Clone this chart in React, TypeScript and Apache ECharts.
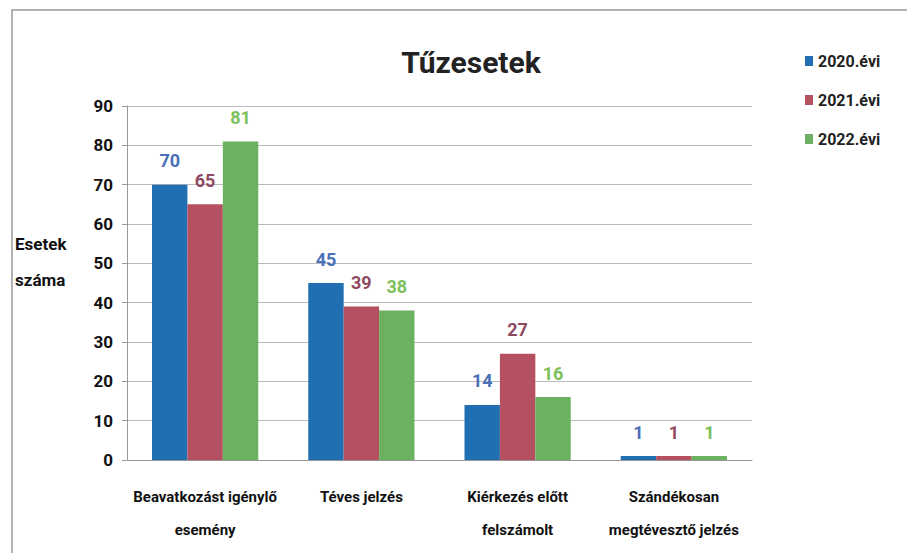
import React, { useEffect, useRef } from "react";
import * as echarts from "echarts";

const categories = [
  "Beavatkozást igénylő\nesemény",
  "Téves jelzés",
  "Kiérkezés előtt\nfelszámolt",
  "Szándékosan\nmegtévesztő jelzés",
];
const seriesNames = ["2020.évi", "2021.évi", "2022.évi"];
const values2020 = [70, 45, 14, 1];
const values2021 = [65, 39, 27, 1];
const values2022 = [81, 38, 16, 1];
const barColors = ["#1f6fb2", "#b4505f", "#6cb061"];
const labelColors = ["#4a70b8", "#8f4a62", "#7cc05a"];

const FONT = "Roboto, 'Liberation Sans', sans-serif";

export default function App() {
  const ref = useRef<HTMLDivElement>(null);
  useEffect(() => {
    if (!ref.current) return;
    const chart = echarts.init(ref.current, undefined, { renderer: "svg" });
    const all = [values2020, values2021, values2022];
    chart.setOption({
      animation: false,
      backgroundColor: "#ffffff",
      textStyle: { fontFamily: FONT },
      title: {
        text: "Tűzesetek",
        left: 466,
        top: 42,
        textAlign: "center",
        textStyle: { fontFamily: FONT, fontSize: 30, fontWeight: "bold", color: "#222" },
      },
      legend: {
        orient: "vertical",
        left: 800,
        top: 48,
        itemGap: 23,
        itemWidth: 8,
        itemHeight: 10,
        icon: "rect",
        textStyle: { fontFamily: FONT, fontSize: 16, fontWeight: "bold", color: "#222" },
        data: seriesNames,
      },
      grid: { left: 127, right: 155, top: 106, bottom: 93 },
      xAxis: {
        type: "category",
        data: categories,
        axisTick: { show: false },
        axisLine: { lineStyle: { color: "#999", width: 1 } },
        axisLabel: {
          interval: 0,
          margin: 20,
          fontFamily: FONT,
          fontSize: 15,
          fontWeight: "bold",
          color: "#111",
          lineHeight: 33,
        },
      },
      yAxis: {
        type: "value",
        min: 0,
        max: 90,
        interval: 10,
        axisLine: { show: true, lineStyle: { color: "#999" } },
        axisTick: { show: true, length: 5, lineStyle: { color: "#999" } },
        splitLine: { lineStyle: { color: "#bbb" } },
        axisLabel: {
          margin: 14,
          fontFamily: FONT,
          fontSize: 17,
          fontWeight: "bold",
          color: "#111",
        },
      },
      graphic: [
        {
          type: "text",
          left: 15,
          top: 226,
          style: {
            text: "Esetek\nszáma",
            font: `bold 17px ${FONT}`,
            fill: "#111",
            lineHeight: 36,
          },
        },
        {
          type: "rect",
          shape: { x: 12, y: 10, width: 1000, height: 600 },
          style: { fill: "none", stroke: "#999", lineWidth: 1.5 },
          silent: true,
        },
      ],
      series: seriesNames.map((name, i) => ({
        name,
        type: "bar",
        data: all[i],
        barGap: "0%",
        barCategoryGap: "32%",
        itemStyle: { color: barColors[i] },
        label: {
          show: true,
          position: "top",
          distance: 15,
          fontFamily: FONT,
          fontSize: 18,
          fontWeight: "bold",
          color: labelColors[i],
        },
      })),
    });
    return () => chart.dispose();
  }, []);
  return <div ref={ref} style={{ width: 907, height: 553, position: "absolute", left: 0, top: 0 }} />;
}
